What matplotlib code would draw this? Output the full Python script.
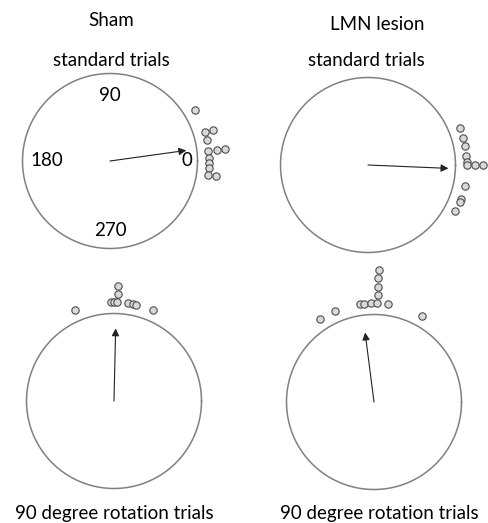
import numpy as np
import matplotlib.pyplot as plt

# ANGULOS (grados) de cada animal, un punto por animal
sham_std = [31, 17, 17, 12, 6, 6, 6, 2, -1, -4, -8, -8]
lmn_std = [22, 16, 11, 5, 2, 0, 0, 0, -12, -20, -22, -28]
sham_rot = [113, 92, 90, 88, 88, 88, 82, 79, 77, 67]
lmn_rot = [123, 113, 98, 96, 92, 88, 88, 88, 88, 88, 82, 61]

# vector medio: direccion (grados) y longitud
mean_dir = [7.9, -2.4, 88.7, 97.3]
mean_len = [0.88, 0.92, 0.83, 0.80]

col_titles = ['Sham', 'LMN lesion']
row_titles = ['standard trials', '90 degree rotation trials']
deg_labels = ['0', '90', '180', '270']

W, H = 488, 523
fig = plt.figure(figsize=(W / 100, H / 100), dpi=100)
plt.rcParams['font.family'] = ['Lato', 'DejaVu Sans']

# centros y radios de cada circulo en pixeles
centers = [(110, 161), (368, 165), (114, 401), (374, 402)]
radius = 87.5
rmax = 1.4

data = [sham_std, lmn_std, sham_rot, lmn_rot]

for i, angs in enumerate(data):
    cx, cy = centers[i]
    half = radius * rmax
    rect = [(cx - half) / W, (H - cy - half) / H, 2 * half / W, 2 * half / H]
    ax = fig.add_axes(rect, projection='polar')
    ax.set_ylim(0, rmax)
    ax.patch.set_visible(False)
    ax.spines['polar'].set_visible(False)
    ax.grid(False)
    ax.set_xticks([])
    ax.set_yticks([])

    t = np.linspace(0, 2 * np.pi, 400)
    ax.plot(t, np.ones_like(t), color='#808080', lw=1.1)

    # apilar puntos con el mismo angulo
    count = {}
    th, rr = [], []
    for a in angs:
        k = count.get(a, 0)
        count[a] = k + 1
        th.append(np.radians(a))
        rr.append(1.13 + k * 0.095)
    ax.scatter(th, rr, s=28, facecolor='#d9d9d9', edgecolor='#4d4d4d',
               linewidth=0.8, zorder=3, clip_on=False)

    ax.annotate('', xy=(np.radians(mean_dir[i]), mean_len[i]), xytext=(0, 0),
                arrowprops=dict(arrowstyle='-|>', color='#222222', lw=0.8,
                                mutation_scale=11, shrinkA=0, shrinkB=0))

    if i == 0:
        ax.text(0, 0.88, deg_labels[0], ha='center', va='center', fontsize=13.5)
        ax.text(np.pi / 2, 0.75, deg_labels[1], ha='center', va='center', fontsize=13.5)
        ax.text(np.pi, 0.72, deg_labels[2], ha='center', va='center', fontsize=13.5)
        ax.text(3 * np.pi / 2, 0.79, deg_labels[3], ha='center', va='center', fontsize=13.5)

# titulos
fs = 13.5
fig.text(111 / W, 1 - 21 / H, col_titles[0], ha='center', va='center', fontsize=fs)
fig.text(377 / W, 1 - 24 / H, col_titles[1], ha='center', va='center', fontsize=fs)
fig.text(111 / W, 1 - 60 / H, row_titles[0], ha='center', va='center', fontsize=fs)
fig.text(366 / W, 1 - 61 / H, row_titles[0], ha='center', va='center', fontsize=fs)
fig.text(114 / W, 1 - 514 / H, row_titles[1], ha='center', va='center', fontsize=fs)
fig.text(379 / W, 1 - 514 / H, row_titles[1], ha='center', va='center', fontsize=fs)

fig.savefig('out.png', dpi=100)
